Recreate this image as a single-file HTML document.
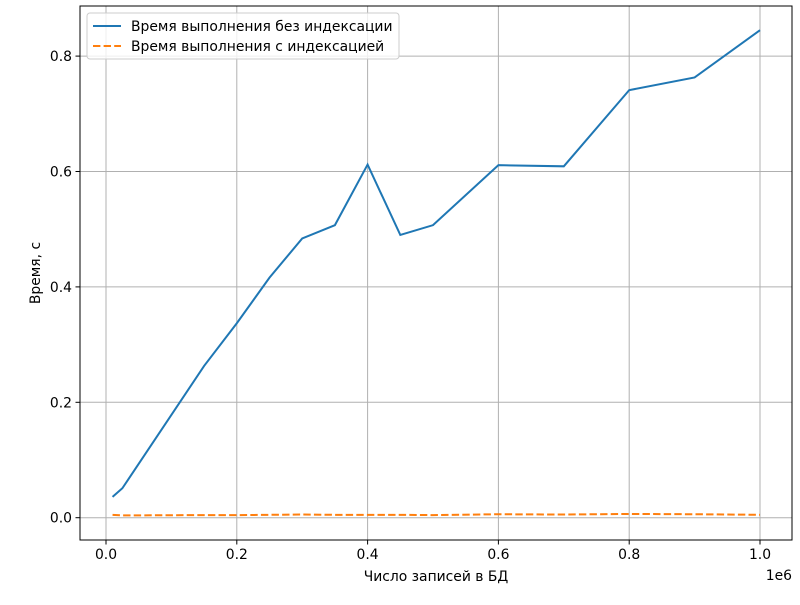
<!DOCTYPE html>
<html><head><meta charset="utf-8"><style>
body{margin:0;background:#fff;font-family:"Liberation Sans","DejaVu Sans",sans-serif}
text{font-family:"DejaVu Sans","Liberation Sans",sans-serif}
</style></head><body>
<svg id="chart" width="800" height="600" xmlns="http://www.w3.org/2000/svg">
<rect width="800" height="600" fill="#fff"/>
<g id="grid"></g><g id="series"></g><g id="axes"></g>
</svg>
<script>
const xValues=[10000,25000,150000,200000,250000,300000,350000,400000,450000,500000,600000,700000,800000,900000,1000000];
const noIndex=[0.036,0.051,0.263,0.337,0.416,0.484,0.507,0.612,0.49,0.507,0.611,0.609,0.741,0.763,0.845];
const withIndex=[0.005,0.004,0.0045,0.0045,0.005,0.0055,0.005,0.005,0.005,0.0045,0.006,0.0055,0.0065,0.006,0.005];
const xTicks=[0,0.2,0.4,0.6,0.8,1.0];
const yTicks=[0,0.2,0.4,0.6,0.8];
const L=80,R=792,T=6,B=540;
const FS=13.9;
const sx=v=>106+v/1e6*654;
const sy=v=>517.7-v*577;
const NS="http://www.w3.org/2000/svg";
function mk(tag,attrs,parent,txt){const e=document.createElementNS(NS,tag);for(const k in attrs)e.setAttribute(k,attrs[k]);if(txt!==undefined)e.textContent=txt;parent.appendChild(e);return e;}
const grid=document.getElementById('grid'),series=document.getElementById('series'),axes=document.getElementById('axes');
xTicks.forEach(t=>{const x=sx(t*1e6);
 const g=mk('line',{x1:x,x2:x,y1:T,y2:B,stroke:'#b0b0b0','stroke-width':1},grid);
 
 mk('line',{x1:x,x2:x,y1:B,y2:B+4.5,stroke:'#000','stroke-width':1},axes);
 const tl=mk('text',{x:x,y:B+19,'text-anchor':'middle','font-size':FS},axes,t.toFixed(1));
 });
yTicks.forEach(t=>{const y=sy(t);
 const g=mk('line',{x1:L,x2:R,y1:y,y2:y,stroke:'#b0b0b0','stroke-width':1},grid);
 
 mk('line',{x1:L-4.5,x2:L,y1:y,y2:y,stroke:'#000','stroke-width':1},axes);
 const tl=mk('text',{x:L-8,y:y+5,'text-anchor':'end','font-size':FS},axes,t.toFixed(1));
 });
const p1=mk('polyline',{points:xValues.map((x,i)=>sx(x)+','+sy(noIndex[i])).join(' '),fill:'none',stroke:'#1f77b4','stroke-width':2},series);

const p2=mk('polyline',{points:xValues.map((x,i)=>sx(x)+','+sy(withIndex[i])).join(' '),fill:'none',stroke:'#ff7f0e','stroke-width':2,'stroke-dasharray':'7.4,3.2'},series);

const fr=mk('rect',{x:L,y:T,width:R-L,height:B-T,fill:'none',stroke:'#000','stroke-width':1},axes);

const xl=mk('text',{x:436,y:581,'text-anchor':'middle','font-size':FS},axes,'Число записей в БД');

const ex=mk('text',{x:792,y:580,'text-anchor':'end','font-size':FS},axes,'1e6');

const yl=mk('text',{x:40,y:273,'text-anchor':'middle','font-size':FS,transform:'rotate(-90 40 273)'},axes,'Время, с');

const lg=mk('g',{},axes);

mk('rect',{x:87,y:13,width:312,height:46,rx:3,fill:'#fff','fill-opacity':0.8,stroke:'#ccc','stroke-width':1},lg);
mk('line',{x1:93,x2:121,y1:26,y2:26,stroke:'#1f77b4','stroke-width':2},lg);
mk('line',{x1:93,x2:121,y1:46,y2:46,stroke:'#ff7f0e','stroke-width':2,'stroke-dasharray':'7.4,3.2'},lg);
const e1=mk('text',{x:131,y:31,'font-size':FS},lg,'Время выполнения без индексации');

const e2=mk('text',{x:131,y:51,'font-size':FS},lg,'Время выполнения с индексацией');

</script>
</body></html>
